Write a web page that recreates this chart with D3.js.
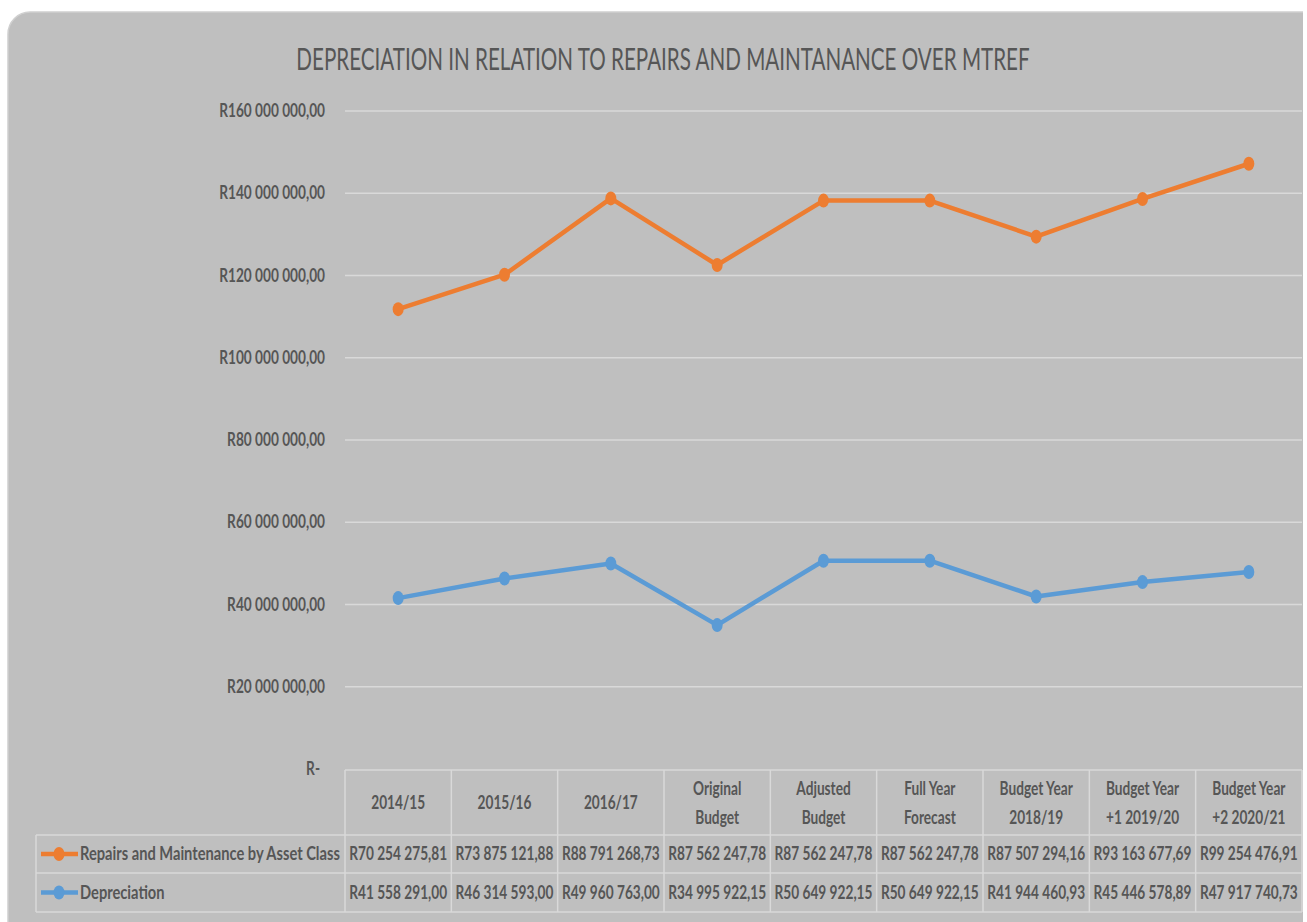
<!DOCTYPE html>
<html><head><meta charset="utf-8">
<script src="https://cdn.jsdelivr.net/npm/d3@7"></script>
<style>
body{margin:0;background:#fff;}
svg text{font-family:Lato,"Open Sans",sans-serif;}
</style></head>
<body><svg id="c" width="1307" height="922"></svg>
<script>
const title = "DEPRECIATION IN RELATION TO REPAIRS AND MAINTANANCE OVER MTREF";
const categories = ["2014/15","2015/16","2016/17","Original\nBudget","Adjusted\nBudget","Full Year\nForecast","Budget Year\n2018/19","Budget Year\n+1 2019/20","Budget Year\n+2 2020/21"];
const seriesNames = ["Repairs and Maintenance by Asset Class","Depreciation"];
const repairs = [70254275.81,73875121.88,88791268.73,87562247.78,87562247.78,87562247.78,87507294.16,93163677.69,99254476.91];
const depreciation = [41558291.00,46314593.00,49960763.00,34995922.15,50649922.15,50649922.15,41944460.93,45446578.89,47917740.73];
const yTicks = [0,20000000,40000000,60000000,80000000,100000000,120000000,140000000,160000000];
const colors = ["#ED7D31","#5B9BD5"];

const loc = d3.formatLocale({decimal:",",thousands:" ",grouping:[3],currency:["R",""]});
const fmt = loc.format("$,.2f");
const yfmt = d => d===0 ? "R-" : fmt(d);

const SX = 0.76, TXT = "#565656";
function txt(parent, x, y, s, o){
  o = o||{};
  const g = parent.append("g").attr("transform",`translate(${x},${y}) scale(${o.sx||SX},1)`);
  return g.append("text").attr("x",0).attr("y",0).attr("text-anchor",o.anchor||"start")
    .attr("font-size",o.size||18).attr("font-weight",o.weight||"bold").attr("fill",o.fill||TXT).text(s);
}

const svg = d3.select("#c");
svg.append("clipPath").attr("id","pc").append("rect").attr("x",0).attr("y",0).attr("width",1303).attr("height",922);
svg.append("rect").attr("x",8).attr("y",12).attr("width",1340).attr("height",960).attr("rx",22)
  .attr("clip-path","url(#pc)")
  .attr("fill","#BFBFBF").attr("stroke","#D0D0D0").attr("stroke-width",1.5);

txt(svg, 663, 70, title, {anchor:"middle", size:31, weight:"normal", sx:0.665});

const x = d3.scaleBand().domain(categories).range([345,1302]).padding(0);
const y = d3.scaleLinear().domain([0,160000000]).range([769,111]);
const cx = c => x(c)+x.bandwidth()/2;

// gridlines
svg.append("g").selectAll("line").data(yTicks.filter(d=>d>0)).join("line")
  .attr("x1",345).attr("x2",1302).attr("y1",d=>y(d)).attr("y2",d=>y(d))
  .attr("stroke","#D9D9D9").attr("stroke-width",1.5);

// y axis labels
const ag = svg.append("g");
yTicks.forEach(t=>{
  txt(ag, t===0 ? 320 : 325, y(t)+6, yfmt(t), {anchor:"end"});
});

// stacked series
const stacked = [repairs.map((v,i)=>v+depreciation[i]), depreciation];
const line = d3.line().x((d,i)=>cx(categories[i])).y(d=>y(d));
stacked.forEach((s,k)=>{
  const g = svg.append("g");
  g.append("path").attr("d",line(s)).attr("fill","none").attr("stroke",colors[k]).attr("stroke-width",4.5).attr("stroke-linejoin","round");
  g.selectAll("ellipse").data(s).join("ellipse").attr("cx",(d,i)=>cx(categories[i])).attr("cy",d=>y(d))
    .attr("rx",5.5).attr("ry",7).attr("fill",colors[k]);
});

// data table
const gridC = "#D9D9D9";
const tg = svg.append("g");
const hTop=770, hBot=835, r1=873, r2=912, legL=36;
const ln = (x1,x2,y1,y2)=>tg.append("line").attr("x1",x1).attr("x2",x2).attr("y1",y1).attr("y2",y2).attr("stroke",gridC).attr("stroke-width",1.5);
ln(345,1302,hTop,hTop);
[hBot,r1,r2].forEach(yy=>ln(legL,1302,yy,yy));
categories.forEach(c=>ln(x(c),x(c),hTop,r2));
ln(1302,1302,hTop,r2);
ln(legL,legL,hBot,r2);

categories.forEach(c=>{
  const lines = c.split("\n");
  if(lines.length===1){
    txt(tg, cx(c), 809, lines[0], {anchor:"middle"});
  } else {
    txt(tg, cx(c), 795, lines[0], {anchor:"middle"});
    txt(tg, cx(c), 824, lines[1], {anchor:"middle"});
  }
});
const rowData = [repairs, depreciation];
const rowMid = [(hBot+r1)/2, (r1+r2)/2];
rowData.forEach((arr,k)=>{
  tg.append("line").attr("x1",41).attr("x2",78).attr("y1",rowMid[k]).attr("y2",rowMid[k]).attr("stroke",colors[k]).attr("stroke-width",4.5);
  tg.append("ellipse").attr("cx",59).attr("cy",rowMid[k]).attr("rx",5.5).attr("ry",7).attr("fill",colors[k]);
  txt(tg, 80, rowMid[k]+6, seriesNames[k], {sx:0.815});
  arr.forEach((v,i)=>{
    txt(tg, cx(categories[i]), rowMid[k]+6, fmt(v), {anchor:"middle"});
  });
});
</script></body></html>
